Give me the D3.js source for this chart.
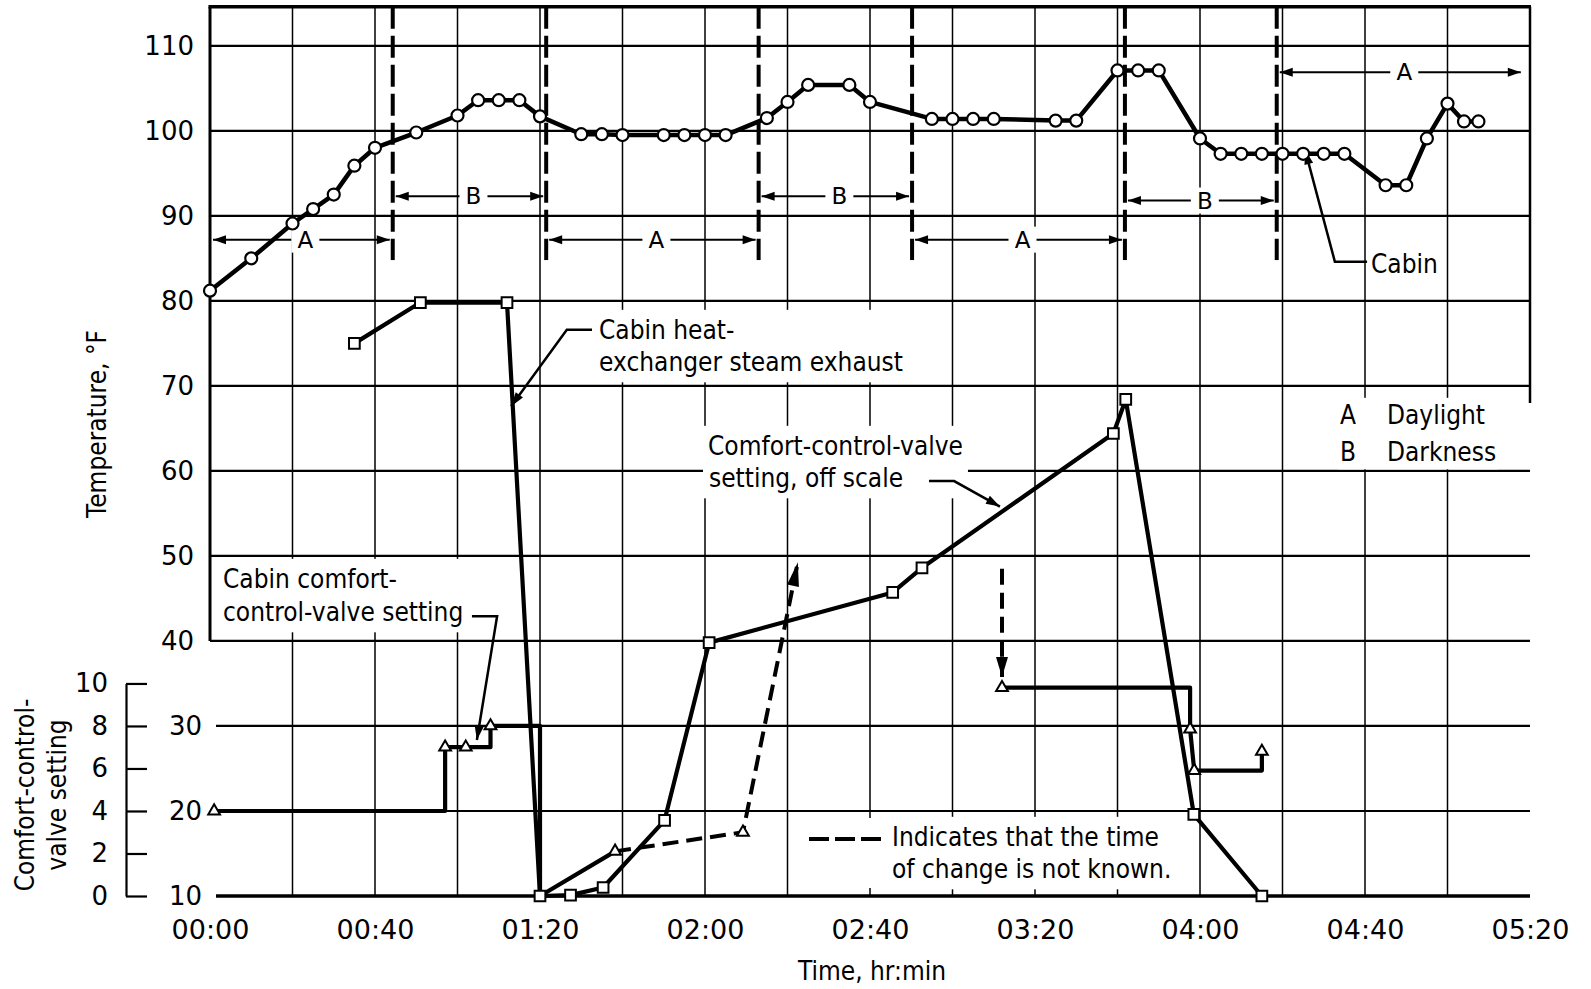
<!DOCTYPE html>
<html lang="en">
<head>
  <meta charset="UTF-8"/>
  <title>Cabin temperatures and comfort-control-valve setting</title>
  <script src="https://d3js.org/d3.v7.min.js"></script>
  <style>
    body { margin: 0; background: #fff; }
    svg { display: block; }
    text { font-family: "DejaVu Sans", sans-serif; fill: #000; }
  </style>
</head>
<body>
<script>

var w = 1591;
var h = 989;

// time is in minutes from the start, temperatures in deg F
var cabinTime = [0, 10, 20, 25, 30, 35, 40, 50, 60, 65, 70, 75, 80,
                 90, 95, 100, 110, 115, 120, 125,
                 135, 140, 145, 155, 160,
                 175, 180, 185, 190, 205, 210,
                 220, 225, 230,
                 240, 245, 250, 255, 260, 265, 270, 275,
                 285, 290, 295, 300, 304, 307.5];
var cabinTemp = [81.2, 85, 89.1, 90.8, 92.5, 95.9, 98, 99.8, 101.8, 103.6, 103.6, 103.6, 101.7,
                 99.6, 99.6, 99.5, 99.5, 99.5, 99.5, 99.5,
                 101.5, 103.4, 105.4, 105.4, 103.4,
                 101.4, 101.4, 101.4, 101.4, 101.2, 101.2,
                 107.1, 107.1, 107.1,
                 99.1, 97.3, 97.3, 97.3, 97.3, 97.3, 97.3, 97.3,
                 93.6, 93.6, 99.1, 103.2, 101.1, 101.1];

var steamTime = [35, 51, 72, 80, 87.4, 95.3, 110.2, 121, 165.5, 172.6, 219, 222, 238.5, 255];
var steamTemp = [75, 79.8, 79.8, 10, 10.1, 11, 18.9, 39.8, 45.7, 48.6, 64.4, 68.4, 19.6, 10];

// comfort-control-valve setting, 0-10 scale at lower left
var valveTime = [1, 57, 57, 62, 68, 68, 80, 80, 98.2];
var valveSet  = [4, 4, 7, 7, 7, 8, 8, 0, 2.1];
var valveDashTime = [98.2, 129.2, 142.5];
var valveDashSet  = [2.1, 3.0, 15.7];
var valveDropTime = [192, 192];
var valveDropSet  = [15.4, 10.3];
var valveLateTime = [192, 237.6, 237.6, 238.6, 255, 255];
var valveLateSet  = [9.8, 9.8, 7.85, 5.9, 5.9, 6.8];
var valveMarkTime = [1, 57, 62, 68, 98.2, 129.2, 192, 237.6, 238.6, 255];
var valveMarkSet  = [4, 7, 7, 8, 2.1, 3.0, 9.8, 7.85, 5.9, 6.8];

var tempTicks  = [10, 20, 30, 40, 50, 60, 70, 80, 90, 100, 110];
var valveTicks = [0, 2, 4, 6, 8, 10];
var timeTicks  = [0, 40, 80, 120, 160, 200, 240, 280, 320];
var timeLabels = ["00:00", "00:40", "01:20", "02:00", "02:40", "03:20", "04:00", "04:40", "05:20"];

// daylight (A) / darkness (B) periods
var periodLabel = ["A", "B", "A", "B", "A", "B", "A"];
var periodStart = [0, 44.3, 81.5, 133, 170.2, 221.8, 258.6];
var periodEnd   = [44.3, 81.5, 133, 170.2, 221.8, 258.6, 318.5];
var periodLevel = [87.2, 92.3, 87.2, 92.3, 87.2, 91.8, 106.9];
var boundaries  = [44.3, 81.5, 133, 170.2, 221.8, 258.6];

var svg = d3.select("body")
            .append("svg")
            .attr("width", w)
            .attr("height", h);

svg.append("rect").attr("width", w).attr("height", h).attr("fill", "white");

var x = d3.scaleLinear().domain([0, 320]).range([210, 1530]);
var y = d3.scaleLinear().domain([10, 110]).range([896, 45.8]);
var yV = d3.scaleLinear().domain([0, 10]).range([y(10), y(35)]);
var yTop = y(114.6);

// grid
var grid = svg.append("g").attr("stroke", "#000");

grid.selectAll(".vgrid")
    .data(d3.range(20, 320, 20))
    .enter()
    .append("line")
    .attr("x1", function(d) { return x(d); })
    .attr("x2", function(d) { return x(d); })
    .attr("y1", yTop)
    .attr("y2", y(10))
    .attr("stroke-width", 1.5);

grid.selectAll(".hgrid")
    .data(tempTicks)
    .enter()
    .append("line")
    .attr("x1", function(d) { return d < 40 ? x(0) + 6 : x(0); })
    .attr("x2", x(320))
    .attr("y1", function(d) { return y(d); })
    .attr("y2", function(d) { return y(d); })
    .attr("stroke-width", function(d) { return d == 10 ? 3.5 : 2.2; });

// frame: top, left down to 40 F, right down to ~68 F
grid.append("line").attr("x1", x(0) - 1.5).attr("x2", x(320) + 1)
    .attr("y1", yTop).attr("y2", yTop).attr("stroke-width", 3.5);
grid.append("line").attr("x1", x(0)).attr("x2", x(0))
    .attr("y1", yTop).attr("y2", y(40)).attr("stroke-width", 3);
grid.append("line").attr("x1", x(320)).attr("x2", x(320))
    .attr("y1", yTop).attr("y2", y(68)).attr("stroke-width", 2.5);

function arrow(g, x1, y1, x2, y2, len, half) {
  var a = Math.atan2(y2 - y1, x2 - x1);
  var bx = x2 - len * Math.cos(a), by = y2 - len * Math.sin(a);
  var px = half * Math.sin(a), py = half * Math.cos(a);
  g.append("path")
   .attr("d", "M" + x2 + "," + y2 + "L" + (bx + px) + "," + (by - py) + "L" + (bx - px) + "," + (by + py) + "Z")
   .attr("fill", "#000")
   .attr("stroke", "none");
}

// text block on a white box, slightly condensed like the original lettering
function note(parent, x0, y0, rows, pad) {
  var g = parent.append("g").attr("transform", "translate(" + x0 + "," + y0 + ") scale(0.9,1)");
  var box = g.append("rect").attr("fill", "white");
  var t = g.append("text").attr("font-size", 26);
  rows.forEach(function(r) {
    t.append("tspan").attr("x", r[0] / 0.9).attr("y", r[1]).text(r[2]);
  });
  var bb = t.node().getBBox();
  var p = pad === undefined ? 5 : pad;
  box.attr("x", bb.x - p / 0.9).attr("y", bb.y - p)
     .attr("width", bb.width + 2 * p / 0.9).attr("height", bb.height + 2 * p);
}

var ann = svg.append("g");

note(ann, 599, 339, [[0, 0, "Cabin heat-"], [0, 32, "exchanger steam exhaust"]]);
note(ann, 708, 455, [[0, 0, "Comfort-control-valve"], [1, 32, "setting, off scale"]]);
note(ann, 223, 588, [[0, 0, "Cabin comfort-"], [0, 33, "control-valve setting"]]);
note(ann, 1371, 273, [[0, 0, "Cabin"]], 3);
note(ann, 1340, 424, [[0, 0, "A"], [47, 0, "Daylight"], [0, 37, "B"], [47, 37, "Darkness"]], 2);

ann.append("rect").attr("x", 800).attr("y", 818).attr("width", 95).attr("height", 70).attr("fill", "white");
note(ann, 892, 846, [[0, 0, "Indicates that the time"], [0, 32, "of change is not known."]]);
ann.append("line")
   .attr("x1", 809).attr("x2", 881).attr("y1", 839).attr("y2", 839)
   .attr("stroke", "#000").attr("stroke-width", 4).attr("stroke-dasharray", "20,6");

// leaders from the notes to the curves
var leaders = [
  { t: [92.6, 86.5, 73],      f: [76.6, 76.6, 67.6] },
  { t: [174.3, 180.4, 191.5], f: [58.8, 58.8, 55.8] },
  { t: [63.5, 69.6, 64.7],    f: [42.9, 42.9, 28.35] },
  { t: [280.5, 272.7, 265.5], f: [84.6, 84.6, 97.7] }
];
var line = d3.line()
             .x(function(d) { return x(d[0]); })
             .y(function(d) { return y(d[1]); });
var lineV = d3.line()
              .x(function(d) { return x(d[0]); })
              .y(function(d) { return yV(d[1]); });

leaders.forEach(function(l) {
  var pts = d3.zip(l.t, l.f);
  ann.append("path").attr("d", line(pts))
     .attr("fill", "none").attr("stroke", "#000").attr("stroke-width", 2.5);
  var n = pts.length;
  arrow(ann, x(pts[n - 2][0]), y(pts[n - 2][1]), x(pts[n - 1][0]), y(pts[n - 1][1]), 14, 4.5);
});

// A / B period arrows
var per = svg.append("g");
periodLabel.forEach(function(lab, i) {
  var yy = y(periodLevel[i]);
  var x1 = x(periodStart[i]) + 3, x2 = x(periodEnd[i]) - 3;
  per.append("line").attr("x1", x1).attr("x2", x2).attr("y1", yy).attr("y2", yy)
     .attr("stroke", "#000").attr("stroke-width", 2);
  arrow(per, x1 + 20, yy, x1, yy, 13, 4.5);
  arrow(per, x2 - 20, yy, x2, yy, 13, 4.5);
  var cx = (x1 + x2) / 2 + 4;
  per.append("rect").attr("x", cx - 14).attr("y", yy - 13).attr("width", 28).attr("height", 26).attr("fill", "white");
  per.append("text").attr("x", cx).attr("y", yy + 8)
     .attr("text-anchor", "middle").attr("font-size", 23).text(lab);
});

per.selectAll(".bound")
   .data(boundaries)
   .enter()
   .append("line")
   .attr("x1", function(d) { return x(d); })
   .attr("x2", function(d) { return x(d); })
   .attr("y1", yTop)
   .attr("y2", y(84.8))
   .attr("stroke", "#000")
   .attr("stroke-width", 4)
   .attr("stroke-dasharray", "22,7");

// data curves
var curves = svg.append("g")
                .attr("fill", "none")
                .attr("stroke", "#000")
                .attr("stroke-linejoin", "round");

curves.append("path").attr("d", line(d3.zip(steamTime, steamTemp))).attr("stroke-width", 4.2);
curves.append("path").attr("d", lineV(d3.zip(valveTime, valveSet))).attr("stroke-width", 4.2);
curves.append("path").attr("d", lineV(d3.zip(valveLateTime, valveLateSet))).attr("stroke-width", 4.2);
curves.append("path").attr("d", lineV(d3.zip(valveDashTime, valveDashSet)))
      .attr("stroke-width", 4).attr("stroke-dasharray", "16,8");
curves.append("path").attr("d", lineV(d3.zip(valveDropTime, valveDropSet)))
      .attr("stroke-width", 4).attr("stroke-dasharray", "16,8");
curves.append("path").attr("d", line(d3.zip(cabinTime, cabinTemp))).attr("stroke-width", 4.5);

var nd = valveDashTime.length;
arrow(svg, x(valveDashTime[nd - 2]), yV(valveDashSet[nd - 2]), x(valveDashTime[nd - 1]), yV(valveDashSet[nd - 1]), 24, 6);
arrow(svg, x(valveDropTime[0]), yV(valveDropSet[0]), x(valveDropTime[1]), yV(valveDropSet[1]), 20, 6);

// markers
var marks = svg.append("g").attr("fill", "white").attr("stroke", "#000").attr("stroke-width", 2);

marks.selectAll(".sq")
     .data(d3.zip(steamTime, steamTemp))
     .enter()
     .append("path")
     .attr("d", d3.symbol().type(d3.symbolSquare).size(115))
     .attr("transform", function(d) { return "translate(" + x(d[0]) + "," + y(d[1]) + ")"; });

marks.selectAll(".tri")
     .data(d3.zip(valveMarkTime, valveMarkSet))
     .enter()
     .append("path")
     .attr("d", d3.symbol().type(d3.symbolTriangle).size(60))
     .attr("transform", function(d) { return "translate(" + x(d[0]) + "," + yV(d[1]) + ")"; });

marks.selectAll(".dot")
     .data(d3.zip(cabinTime, cabinTemp))
     .enter()
     .append("circle")
     .attr("cx", function(d) { return x(d[0]); })
     .attr("cy", function(d) { return y(d[1]); })
     .attr("r", 6)
     .attr("stroke-width", 2.2);

// axes
var xAxis = d3.axisBottom(x)
              .tickValues(timeTicks)
              .tickFormat(function(d, i) { return timeLabels[i]; })
              .tickSize(0)
              .tickPadding(24);
svg.append("g")
   .attr("transform", "translate(0," + y(10) + ")")
   .call(xAxis)
   .attr("font-size", 27)
   .attr("font-family", "DejaVu Sans, sans-serif")
   .call(function(g) { g.select(".domain").remove(); });

var yAxis = d3.axisLeft(y).tickValues(tempTicks).tickSize(0).tickPadding(16);
svg.append("g")
   .attr("transform", "translate(" + x(0) + ",0)")
   .call(yAxis)
   .attr("font-size", 26)
   .attr("font-family", "DejaVu Sans, sans-serif")
   .call(function(g) {
     g.select(".domain").remove();
     g.selectAll(".tick text").filter(function(d) { return d <= 30; }).attr("x", -8);
   });

var vAxis = d3.axisLeft(yV).tickValues(valveTicks).tickSizeInner(-21).tickSizeOuter(0).tickPadding(18);
svg.append("g")
   .attr("transform", "translate(126,0)")
   .call(vAxis)
   .attr("font-size", 26)
   .attr("font-family", "DejaVu Sans, sans-serif")
   .call(function(g) {
     g.selectAll("line, path").attr("stroke-width", 2.2);
   });

// axis titles
var titles = svg.append("g").attr("font-size", 26).attr("text-anchor", "middle");
titles.append("text").attr("transform", "translate(872,980) scale(0.9,1)").text("Time, hr:min");
titles.append("text").attr("transform", "translate(106,424) rotate(-90) scale(0.9,1)").text("Temperature, \u00b0F");
titles.append("text").attr("transform", "translate(34,795) rotate(-90) scale(0.9,1)").text("Comfort-control-");
titles.append("text").attr("transform", "translate(66,795) rotate(-90) scale(0.9,1)").text("valve setting");

</script>
</body>
</html>
